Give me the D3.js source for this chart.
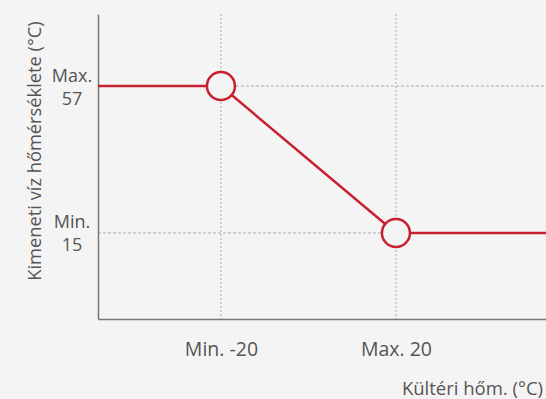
<!DOCTYPE html>
<html><head><meta charset="utf-8">
<script src="https://cdn.jsdelivr.net/npm/d3@7"></script>
<style>
html,body{margin:0;padding:0;background:#f4f4f4;}
text{font-family:"Open Sans","Noto Sans",sans-serif;fill:#555;}
</style></head>
<body>
<svg id="c" width="546" height="399"></svg>
<script>
const pointX = [-20, 20];
const pointY = [57, 15];
const xTickLabels = ["Min. -20", "Max. 20"];
const yTickLabels = [["Max.", "57"], ["Min.", "15"]];
const xTitle = "Kültéri hőm. (°C)";
const yTitle = "Kimeneti víz hőmérséklete (°C)";

const svg = d3.select("#c");
const W = 546, H = 399;
svg.append("rect").attr("width", W).attr("height", H).attr("fill", "#f4f4f4");

const x = d3.scaleLinear().domain([-48.1, 54.3]).range([98, 546]);
const y = d3.scaleLinear().domain([-9.6, 77.6]).range([319, 14]);
const red = "#c8202f";

// grid dashed lines
const g = svg.append("g");
pointX.forEach(v => {
  g.append("line").attr("x1", x(v)).attr("x2", x(v)).attr("y1", y(77.6)).attr("y2", y(-9.6))
    .attr("stroke", "#aaa").attr("stroke-width", 1).attr("stroke-dasharray", "2,2");
});
g.append("line").attr("x1", x(pointX[0])).attr("x2", x(54.3)).attr("y1", y(pointY[0])).attr("y2", y(pointY[0]))
  .attr("stroke", "#aaa").attr("stroke-width", 1).attr("stroke-dasharray", "3,2");
g.append("line").attr("x1", x(-48.1)).attr("x2", x(pointX[1])).attr("y1", y(pointY[1])).attr("y2", y(pointY[1]))
  .attr("stroke", "#aaa").attr("stroke-width", 1).attr("stroke-dasharray", "3,2");

// axes
const xAxis = d3.axisBottom(x).tickValues(pointX).tickSize(0).tickFormat((d, i) => xTickLabels[i]);
const ax = svg.append("g").attr("transform", `translate(0,${y(-9.6)})`).call(xAxis);
ax.select(".domain").attr("stroke", "#777").attr("stroke-width", 1.5);
ax.selectAll("text").attr("dy", 0).attr("y", 37).style("font-size", "19.5px").style("font-family", "'Open Sans', sans-serif").attr("fill", "#555");

const yAxis = d3.axisLeft(y).tickValues(pointY).tickSize(0).tickFormat("");
const ay = svg.append("g").attr("transform", `translate(${x(-48.1)},0)`).call(yAxis);
ay.select(".domain").attr("stroke", "#777").attr("stroke-width", 1.5);
ay.selectAll(".tick").each(function(d, i) {
  const t = d3.select(this).append("text").attr("text-anchor", "middle").attr("x", -26)
    .style("font-size", "18px").style("font-family", "'Open Sans', sans-serif").attr("fill", "#555");
  t.append("tspan").attr("x", -26).attr("y", -5).text(yTickLabels[i][0]);
  t.append("tspan").attr("x", -26).attr("y", 18).text(yTickLabels[i][1]);
});

// line
const lineData = [[-48.1, pointY[0]], [pointX[0], pointY[0]], [pointX[1], pointY[1]], [54.3, pointY[1]]];
svg.append("path").datum(lineData)
  .attr("d", d3.line().x(d => x(d[0])).y(d => y(d[1])))
  .attr("fill", "none").attr("stroke", red).attr("stroke-width", 2.5);

svg.selectAll("circle.pt").data(pointX).enter().append("circle")
  .attr("cx", d => x(d)).attr("cy", (d, i) => y(pointY[i])).attr("r", 14)
  .attr("fill", "#f4f4f4").attr("stroke", red).attr("stroke-width", 2.5);

// titles
svg.append("text").attr("x", 543).attr("y", 395).attr("text-anchor", "end")
  .style("font-size", "18.5px").text(xTitle);
svg.append("text").attr("transform", "translate(41,151) rotate(-90)").attr("text-anchor", "middle")
  .style("font-size", "18.3px").text(yTitle);
</script>
</body></html>
